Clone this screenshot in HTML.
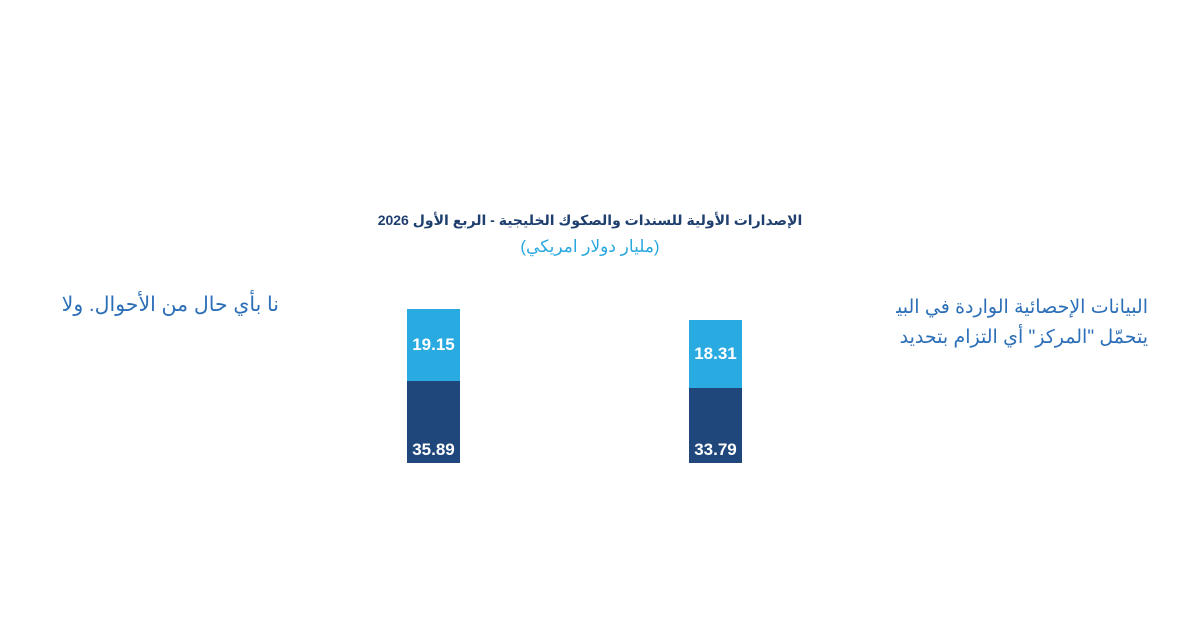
<!DOCTYPE html>
<html><head><meta charset="utf-8"><style>
body{margin:0;width:1200px;height:633px;background:#fff;position:relative;overflow:hidden;font-family:"Liberation Sans","DejaVu Sans",sans-serif}
.a{position:absolute}
.t{left:374px;width:432px;text-align:center;white-space:nowrap}
.bar{position:absolute;width:53px;color:#fff;font-weight:bold;font-size:17px;display:flex;justify-content:center}
</style></head><body>
<div class="a t" style="top:212px;font-size:14px;font-weight:bold;color:#1f3f6e" dir="rtl">الإصدارات الأولية للسندات والصكوك الخليجية - الربع الأول 2026</div>
<div class="a t" style="top:237px;font-size:17px;color:#29a8e0" dir="rtl">(مليار دولار امريكي)</div>

<div class="bar" style="left:407px;top:309px;height:72px;background:#29abe2;align-items:center">19.15</div>
<div class="bar" style="left:407px;top:381px;height:82px;background:#1f477c;align-items:flex-end"><span style="margin-bottom:3px">35.89</span></div>
<div class="bar" style="left:689px;top:320px;height:68px;background:#29abe2;align-items:center">18.31</div>
<div class="bar" style="left:689px;top:388px;height:75px;background:#1f477c;align-items:flex-end"><span style="margin-bottom:3px">33.79</span></div>

<div class="a" style="left:0;width:279px;top:292px;font-size:20.5px;color:#2c6fb7;text-align:right;white-space:nowrap" dir="rtl">نا بأي حال من الأحوال. ولا</div>
<div class="a" style="left:896px;width:252px;top:293px;overflow:hidden;height:60px">
<div style="position:absolute;right:0;font-size:19px;line-height:30px;color:#2c6fb7;text-align:right;white-space:nowrap" dir="rtl">البيانات الإحصائية الواردة في البيان<br>يتحمّل "المركز" أي التزام بتحديد</div>
</div>
</body></html>
